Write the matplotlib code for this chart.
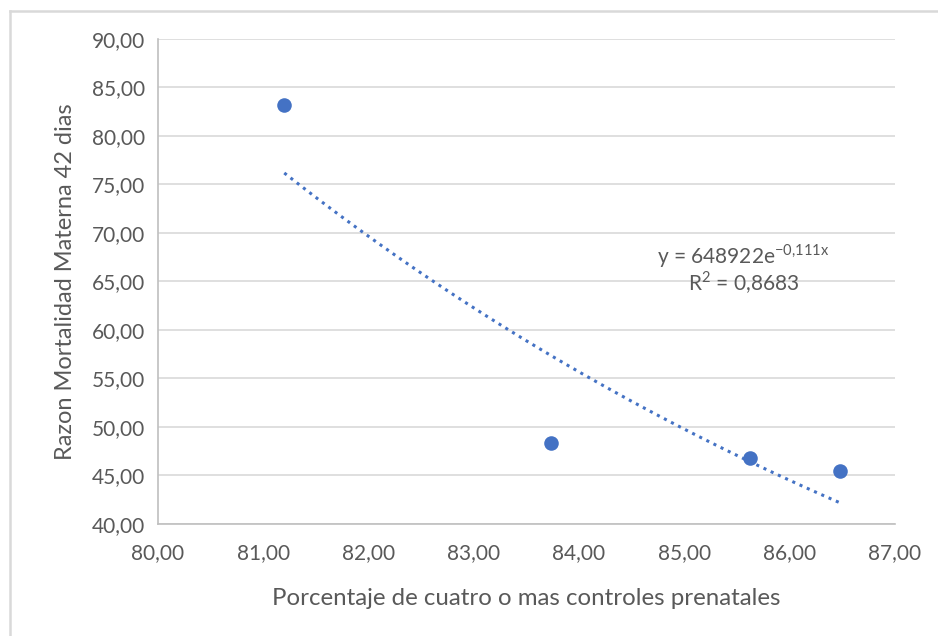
import numpy as np
import matplotlib.pyplot as plt
from matplotlib.lines import Line2D
from matplotlib.ticker import FuncFormatter

plt.rcParams['font.family'] = ['Lato', 'DejaVu Sans']
plt.rcParams['mathtext.fontset'] = 'custom'
plt.rcParams['mathtext.rm'] = 'Lato'

controles = [81.20, 83.73, 85.62, 86.48]
razon_mm = [83.2, 48.35, 46.8, 45.5]

xlabel = 'Porcentaje de cuatro o mas controles prenatales'
ylabel = 'Razon Mortalidad Materna 42 dias'

blue = '#4472C4'
txt = '#595959'

# ajuste exponencial (linea de tendencia)
b, ln_a = np.polyfit(controles, np.log(razon_mm), 1)
xt = np.linspace(min(controles), max(controles), 100)
yt = np.exp(ln_a) * np.exp(b * xt)

fig = plt.figure(figsize=(9.38, 6.36), dpi=100)
ax = fig.add_axes([0.1684, 0.1761, 0.7856, 0.7626])

ax.scatter(controles, razon_mm, s=110, color=blue, zorder=3, linewidths=0)
ax.plot(xt, yt, linestyle=(0, (1, 1.6)), color=blue, lw=2.2, zorder=2)

ax.set_xlim(80, 87)
ax.set_ylim(40, 90)
ax.set_xticks(np.arange(80, 87.1, 1))
ax.set_yticks(np.arange(40, 90.1, 5))
fmt = FuncFormatter(lambda v, p: f'{v:.2f}'.replace('.', ','))
ax.xaxis.set_major_formatter(fmt)
ax.yaxis.set_major_formatter(fmt)
ax.tick_params(length=0, labelsize=15, colors=txt)
ax.tick_params(axis='x', pad=14)
ax.tick_params(axis='y', pad=9)
ax.grid(axis='y', color='#d9d9d9', lw=1.2)
ax.set_axisbelow(True)
for s in ['top', 'right']:
    ax.spines[s].set_visible(False)
for s in ['left', 'bottom']:
    ax.spines[s].set_color('#bfbfbf')
    ax.spines[s].set_linewidth(1.2)

ax.set_xlabel(xlabel, fontsize=17.3, color=txt, labelpad=18)
ax.set_ylabel(ylabel, fontsize=17, color=txt, labelpad=12)

ax.text(85.56, 67.6, r'y = 648922e$^{\mathregular{-0{,}111x}}$', fontsize=15, color=txt,
        ha='center', va='center')
ax.text(85.56, 64.9, r'R$^{\mathregular{2}}$ = 0,8683', fontsize=15, color=txt,
        ha='center', va='center')

# borde exterior (solo arriba e izquierda)
fig.add_artist(Line2D([9.5/938, 1], [1 - 11/636, 1 - 11/636], transform=fig.transFigure,
                      color='#d9d9d9', lw=1.8))
fig.add_artist(Line2D([9.5/938, 9.5/938], [0, 1 - 11/636], transform=fig.transFigure,
                      color='#d9d9d9', lw=1.8))

fig.savefig('out.png', dpi=100)
